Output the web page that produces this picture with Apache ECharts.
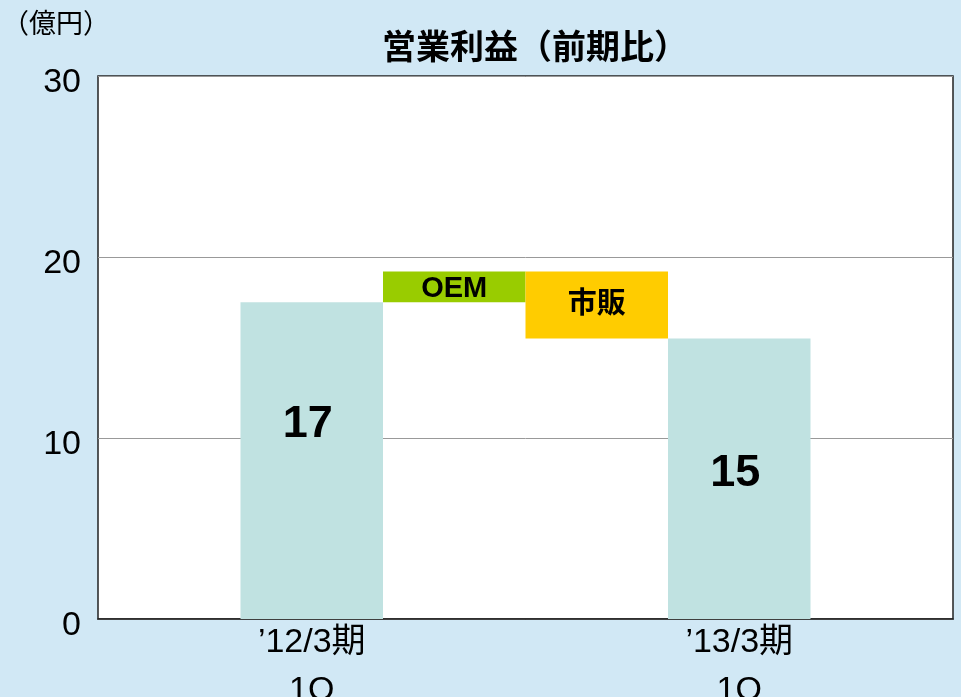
<!DOCTYPE html>
<html>
<head>
<meta charset="utf-8">
<script src="https://cdn.jsdelivr.net/npm/echarts@6/dist/echarts.min.js"></script>
<style>
  html, body { margin: 0; padding: 0; background: #d1e8f5; }
  #chart { width: 961px; height: 697px; }
</style>
</head>
<body>
<div id="chart"></div>
<script>
// waterfall: 営業利益 前期比
const categories = ['', '’12/3期\n1Q', 'OEM', '市販', '’13/3期\n1Q', '']
const baseValues = ['-', 0, 17.5, 15.5, 0, '-']
const barValues = ['-', 17.5, 1.7, 3.7, 15.5, '-']
const barLabels = ['', '17', 'OEM', '市販', '15', '']
const yTicks = [0, 10, 20, 30]

const FONT = '"Liberation Sans", "Noto Sans CJK JP", sans-serif'
const colors = ['#c0e2e1', '#c0e2e1', '#99cc00', '#ffcc00', '#c0e2e1', '#c0e2e1']

const labelStyles = [
  null,
  { position: ['50%', 122], fontSize: 45, offset: [-4, 0] },
  { position: 'inside', fontSize: 29, offset: [0, 2] },
  { position: 'inside', fontSize: 29, offset: [0, 0] },
  { position: ['50%', 135], fontSize: 45, offset: [-4, 0] },
  null
]

const chart = echarts.init(document.getElementById('chart'))

const option = {
  backgroundColor: '#d1e8f5',
  animation: false,
  textStyle: { fontFamily: FONT },
  title: {
    text: '営業利益（前期比）',
    left: 377,
    top: 24,
    textStyle: { fontSize: 34, fontWeight: 'bold', color: '#000', fontFamily: '"Noto Sans CJK JP", sans-serif' }
  },
  graphic: [{
    type: 'text',
    left: 2,
    top: 9,
    style: { text: '（億円）', fontSize: 27, fill: '#000', fontFamily: '"Noto Sans CJK JP", sans-serif' }
  }],
  grid: {
    left: 98,
    right: 8,
    top: 76,
    bottom: 78,
    outerBoundsMode: 'none',
    containLabel: false,
    show: true,
    backgroundColor: '#fff',
    borderColor: '#222',
    borderWidth: 1.5
  },
  xAxis: {
    type: 'category',
    data: categories,
    axisTick: { show: false },
    axisLine: { lineStyle: { color: '#222', width: 1.5 } },
    axisLabel: {
      interval: 0,
      color: '#000',
      fontSize: 34,
      lineHeight: 48,
      margin: 0,
      fontFamily: FONT,
      formatter: (v, i) => (i === 1 || i === 4 ? v : '')
    }
  },
  yAxis: {
    type: 'value',
    min: yTicks[0],
    max: yTicks[yTicks.length - 1],
    interval: 10,
    axisLine: { show: false },
    axisTick: { show: false },
    axisLabel: {
      margin: 17,
      formatter: (v) => '{t|' + v + '}',
      rich: { t: { color: '#000', fontSize: 34, fontFamily: FONT, padding: [14, 0, 0, 0] } }
    },
    splitLine: { lineStyle: { color: '#999', width: 1 } }
  },
  series: [
    {
      type: 'bar',
      stack: 'w',
      barWidth: '100%',
      silent: true,
      itemStyle: { color: 'transparent' },
      data: baseValues
    },
    {
      type: 'bar',
      stack: 'w',
      barWidth: '100%',
      data: barValues.map((v, i) => ({
        value: v,
        itemStyle: { color: colors[i] },
        label: labelStyles[i] ? {
          show: true,
          position: labelStyles[i].position,
          offset: labelStyles[i].offset,
          align: 'center',
          verticalAlign: 'middle',
          fontSize: labelStyles[i].fontSize,
          fontWeight: 'bold',
          color: '#000',
          fontFamily: FONT,
          formatter: () => barLabels[i]
        } : { show: false }
      }))
    }
  ]
}

chart.setOption(option)
</script>
</body>
</html>
